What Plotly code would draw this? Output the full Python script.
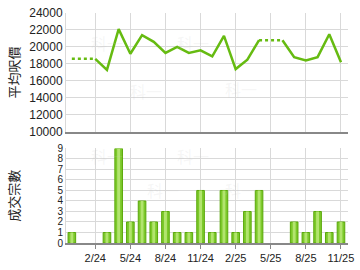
import plotly.graph_objects as go
from plotly.subplots import make_subplots

months = ["12/23", "1/24", "2/24", "3/24", "4/24", "5/24", "6/24", "7/24", "8/24", "9/24",
          "10/24", "11/24", "12/24", "1/25", "2/25", "3/25", "4/25", "5/25", "6/25", "7/25",
          "8/25", "9/25", "10/25", "11/25"]
avg_price = [18600, None, 18600, 17300, 22100, 19200, 21400, 20600, 19300, 20000,
             19300, 19600, 18900, 21300, 17400, 18500, 20800, None, 20800, 18800,
             18400, 18800, 21500, 18200]
deals = [1, 0, 0, 1, 9, 2, 4, 2, 3, 1, 1, 5, 1, 5, 1, 3, 5, 0, 0, 2, 1, 3, 1, 2]
tick_labels = ["2/24", "5/24", "8/24", "11/24", "2/25", "5/25", "8/25", "11/25"]

GREEN = "#66bb11"
GRID = "#d9d9d9"

fig = make_subplots(rows=2, cols=1, shared_xaxes=False, vertical_spacing=0.07)

# dotted segments bridging gaps
for i, v in enumerate(avg_price):
    if v is None:
        j0 = i - 1
        j1 = i + 1
        while j1 < len(avg_price) and avg_price[j1] is None:
            j1 += 1
        if j0 >= 0 and j1 < len(avg_price) and avg_price[j0] is not None:
            fig.add_trace(go.Scatter(x=[months[j0], months[j1]], y=[avg_price[j0], avg_price[j1]],
                                     mode="lines", line=dict(color=GREEN, width=2.5, dash="dot"),
                                     hoverinfo="skip", showlegend=False), row=1, col=1)

fig.add_trace(go.Scatter(x=months, y=avg_price, mode="lines", connectgaps=False,
                         line=dict(color=GREEN, width=2.5), showlegend=False), row=1, col=1)

bar_y = [d if d > 0 else None for d in deals]
fig.add_trace(go.Bar(x=months, y=bar_y, width=0.65,
                     marker=dict(color="#7cc92a", line=dict(color="#5aa80a", width=1)),
                     showlegend=False), row=2, col=1)
fig.add_trace(go.Bar(x=months, y=bar_y, width=0.25, hoverinfo="skip",
                     marker=dict(color="#b2e46e", line=dict(width=0)),
                     showlegend=False), row=2, col=1)

axis_common = dict(type="category", categoryorder="array", categoryarray=months,
                   range=[-0.5, 23.6], tickvals=tick_labels, showgrid=True, gridcolor=GRID,
                   gridwidth=1, showline=True, linecolor="#888888", linewidth=2,
                   tickfont=dict(family="Liberation Sans, Arial", size=11, color="#222"),
                   zeroline=False)

fig.update_xaxes(**axis_common, showticklabels=False, ticks="", row=1, col=1)
fig.update_xaxes(**axis_common, showticklabels=True, ticks="outside", ticklen=4,
                 tickcolor="#888888", row=2, col=1)

fig.update_yaxes(range=[10000, 24000], dtick=2000, tickformat="d", showgrid=True, gridcolor=GRID,
                 showline=True, linecolor=GRID, linewidth=1, zeroline=False,
                 tickfont=dict(family="Liberation Sans, Arial", size=12, color="#222"),
                 title=dict(text="平均呎價", font=dict(family="Noto Sans CJK TC", size=13, color="#222"),
                            standoff=6),
                 row=1, col=1)
fig.update_yaxes(range=[0, 9], dtick=1, showgrid=True, gridcolor=GRID,
                 showline=True, linecolor=GRID, linewidth=1, zeroline=False,
                 tickfont=dict(family="Liberation Sans, Arial", size=10, color="#222"),
                 title=dict(text="成交宗數", font=dict(family="Noto Sans CJK TC", size=13, color="#222"),
                            standoff=34),
                 row=2, col=1)

fig.update_layout(width=360, height=270, margin=dict(l=66, r=6, t=8, b=26),
                  paper_bgcolor="white", plot_bgcolor="white", barmode="overlay",
                  yaxis=dict(domain=[0.483, 1.0]), yaxis2=dict(domain=[0.0, 0.411]))

# faint watermarks
for (xx, yy) in [(0.08, 0.93), (0.22, 0.72), (0.45, 0.93), (0.62, 0.73)]:
    fig.add_annotation(xref="paper", yref="paper", x=xx, y=yy, text="科一", showarrow=False,
                       font=dict(size=16, color="rgba(200,200,200,0.18)", family="Noto Sans CJK TC"))
for (xx, yy) in [(0.08, 0.38), (0.28, 0.17), (0.45, 0.38), (0.62, 0.17)]:
    fig.add_annotation(xref="paper", yref="paper", x=xx, y=yy, text="科一", showarrow=False,
                       font=dict(size=16, color="rgba(200,200,200,0.18)", family="Noto Sans CJK TC"))

fig.write_html("out.html")
